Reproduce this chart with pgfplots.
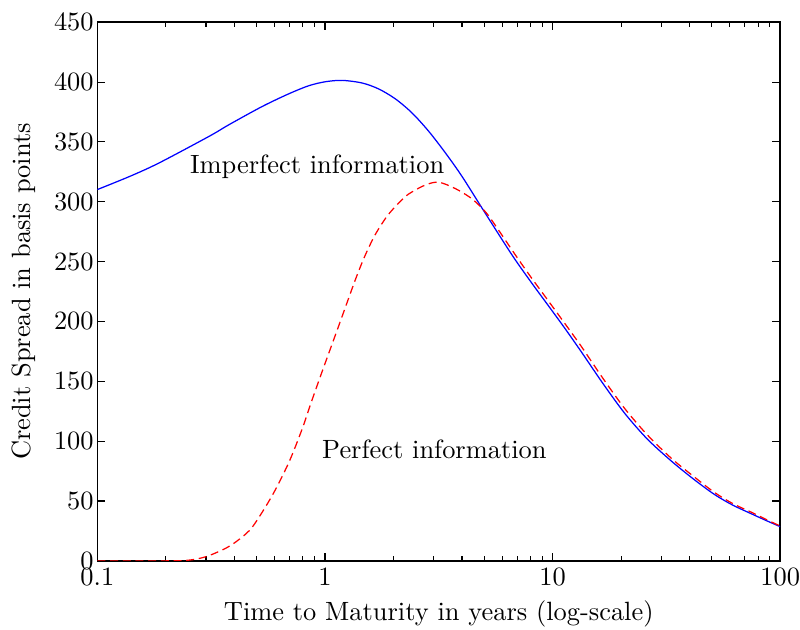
\documentclass[border=0pt]{standalone}
\usepackage{fontspec}
\setmainfont{lmroman10-regular}[Extension=.otf]
\usepackage{pgfplots}
\usepackage{pgfplotstable}
\pgfplotsset{compat=1.18}

\pgfplotstableread{
x y
0.1 310.2
0.14 321.5
0.1875 332.6
0.31 354.7
0.3797 364.5
0.5313 379.7
0.6957 390.3
0.851 397
1.007 400.3
1.191 401.4
1.457 399.2
1.724 394.2
2.04 385.9
2.413 374.2
2.855 358.9
3.379 340.9
3.994 321.4
4.887 295
6.61 256
8.0 233.5
9.58 213.2
11.3 194.5
13.4 174.4
16.6 148.5
20.7 123.5
26 102
33.2 83.5
41.5 68.5
51.4 55.5
62 46.5
74.4 39.5
87 33.6
100 28.6
}\imperfect

\pgfplotstableread{
x y
0.1 0
0.2 0
0.25 0.5
0.3 3.5
0.367 10.6
0.42 18
0.481 28.6
0.588 55
0.696 82.8
0.795 110.5
0.866 131.3
0.973 158.5
1.15 196.5
1.363 235.4
1.508 256
1.668 273
1.875 288
2.11 299
2.333 306.5
2.76 314
3.16 316.3
3.74 311
4.42 302.5
5.1 291
5.78 276.5
6.84 256
8.0 237.5
9.58 217.2
11.3 198.5
13.4 178.9
16.6 152.8
20.7 127.5
26 105.5
33.2 85.8
41.5 70.8
51.4 57.2
62 47.8
74.4 40.8
87 34.5
100 29.1
}\perfect

\begin{document}
\begin{tikzpicture}
\begin{axis}[
  scale only axis,
  width=495.05pt, height=390.55pt,
  xmode=log, xmin=0.1, xmax=100, ymin=0, ymax=450,
  xtick={0.1,1,10,100}, xticklabels={0.1,1,10,100},
  minor xtick={0.2,0.3,0.4,0.5,0.6,0.7,0.8,0.9,2,3,4,5,6,7,8,9,20,30,40,50,60,70,80,90},
  ytick={0,50,100,150,200,250,300,350,400,450},
  tick align=inside,
  major tick length=5.8pt, minor tick length=3.2pt,
  every tick/.style={black, line width=0.8pt},
  axis line style={line width=1.2pt},
  /pgf/number format/assume math mode=true,
  ticklabel style={font=\fontsize{19.15}{23}\selectfont, inner sep=0pt},
  xticklabel style={yshift=-4.8pt},
  yticklabel style={xshift=-2.5pt},
  label style={font=\fontsize{19.15}{23}\selectfont},
  xlabel={Time to Maturity in years (log-scale)},
  ylabel={Credit Spread in basis points},
  xlabel style={at={(axis description cs:0.5,-0.1107)}, anchor=base, inner sep=0pt},
  ylabel style={at={(axis description cs:-0.0981,0.5)}, anchor=base, inner sep=0pt},
]
\addplot[blue, line width=0.9pt, smooth] table[x=x, y=y] {\imperfect};
\addplot[red, line width=0.9pt, smooth, dash pattern=on 5.8pt off 3.4pt] table[x=x, y=y] {\perfect};
\node[anchor=base west, inner sep=0pt, font=\fontsize{19.15}{23}\selectfont] at (axis cs:0.255,323.5) {Imperfect information};
\node[anchor=base west, inner sep=0pt, font=\fontsize{19.15}{23}\selectfont] at (axis cs:0.97,85.5) {Perfect information};
\end{axis}
\path ([shift={(-70.6pt,-49.4pt)}]current axis.south west) rectangle ([shift={(12.5pt,16.1pt)}]current axis.north east);
\end{tikzpicture}
\end{document}
